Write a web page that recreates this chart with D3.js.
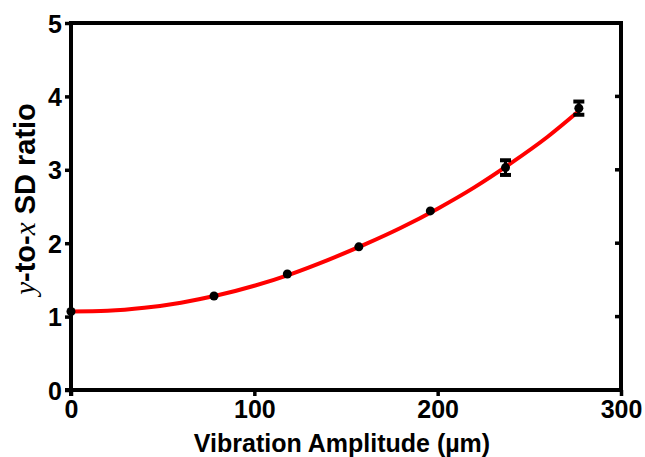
<!DOCTYPE html>
<html>
<head>
<meta charset="utf-8">
<script src="https://cdn.jsdelivr.net/npm/d3@7"></script>
<style>
  body { margin: 0; background: #fff; }
  svg { display: block; }
  .tick-label { font-family: "Liberation Sans", Arial, sans-serif; font-weight: bold; font-size: 25px; }
</style>
</head>
<body>
<div id="chart"></div>
<script>
// data
const amplitude = [0, 78, 118, 157, 196, 237, 277];
const sdRatio = [1.07, 1.28, 1.58, 1.95, 2.44, 3.03, 3.84];
const sdError = [0, 0, 0, 0, 0, 0.10, 0.09];

// red fit curve
const fitX = [0, 20, 40, 60, 80, 100, 120, 140, 160, 180, 200, 220, 240, 260, 277];
const fitY = [1.07, 1.08, 1.12, 1.19, 1.29, 1.42, 1.58, 1.77, 1.98, 2.21, 2.47, 2.76, 3.09, 3.45, 3.80];

const xTicks = [0, 100, 200, 300];
const yTicks = [0, 1, 2, 3, 4, 5];

const width = 645, height = 457;
const plotLeft = 71, plotRight = 621, plotTop = 23, plotBottom = 390;

const svg = d3.select('#chart').append('svg')
  .attr('width', width)
  .attr('height', height);

const x = d3.scaleLinear().domain([0, 300]).range([plotLeft, plotRight]);
const y = d3.scaleLinear().domain([0, 5]).range([plotBottom, plotTop]);

// fit line
const line = d3.line()
  .x((d, i) => x(fitX[i]))
  .y(d => y(d))
  .curve(d3.curveMonotoneX);

svg.append('path')
  .datum(fitY)
  .attr('d', line)
  .attr('fill', 'none')
  .attr('stroke', '#ff0000')
  .attr('stroke-width', 4);

// box: top and right border
svg.append('path')
  .attr('d', `M${plotLeft},${plotTop}H${plotRight}V${plotBottom}`)
  .attr('fill', 'none')
  .attr('stroke', '#000')
  .attr('stroke-width', 4);

// right side inward ticks
svg.append('g').selectAll('line')
  .data(yTicks.slice(1, -1))
  .join('line')
  .attr('x1', plotRight - 6).attr('x2', plotRight)
  .attr('y1', d => y(d)).attr('y2', d => y(d))
  .attr('stroke', '#000').attr('stroke-width', 3.5);

// x axis
const xAxis = svg.append('g')
  .attr('transform', `translate(0,${plotBottom})`)
  .call(d3.axisBottom(x).tickValues(xTicks).tickFormat(d3.format('d'))
    .tickSize(6).tickPadding(4).tickSizeOuter(0));
xAxis.select('.domain').attr('stroke-width', 4).attr('d', `M${plotLeft - 6},0H${plotRight}`);
xAxis.selectAll('.tick line').attr('stroke-width', 3.5);
xAxis.selectAll('.tick text').attr('class', 'tick-label').attr('fill', '#000');

// y axis
const yAxis = svg.append('g')
  .attr('transform', `translate(${plotLeft},0)`)
  .call(d3.axisLeft(y).tickValues(yTicks).tickFormat(d3.format('d'))
    .tickSize(6).tickPadding(3).tickSizeOuter(0));
yAxis.select('.domain').attr('stroke-width', 4).attr('d', `M0,${plotBottom + 6}V${plotTop - 2}`);
yAxis.selectAll('.tick line').attr('stroke-width', 3.5);
yAxis.selectAll('.tick text').attr('class', 'tick-label').attr('fill', '#000').attr('dy', '0.36em');

// error bars
const pts = amplitude.map((a, i) => ({ a: a, v: sdRatio[i], e: sdError[i] }));
const bars = svg.append('g').selectAll('g')
  .data(pts.filter(d => d.e > 0))
  .join('g');
bars.append('line')
  .attr('x1', d => x(d.a)).attr('x2', d => x(d.a))
  .attr('y1', d => y(d.v - d.e)).attr('y2', d => y(d.v + d.e))
  .attr('stroke', '#000').attr('stroke-width', 3);
bars.selectAll('.cap')
  .data(d => [[d.a, d.v - d.e], [d.a, d.v + d.e]])
  .join('line')
  .attr('class', 'cap')
  .attr('x1', d => x(d[0]) - 5.5).attr('x2', d => x(d[0]) + 5.5)
  .attr('y1', d => y(d[1])).attr('y2', d => y(d[1]))
  .attr('stroke', '#000').attr('stroke-width', 4);

// points
svg.append('g').selectAll('circle')
  .data(pts)
  .join('circle')
  .attr('cx', d => x(d.a))
  .attr('cy', d => y(d.v))
  .attr('r', 4.5)
  .attr('fill', '#000');

// x title
svg.append('text')
  .attr('x', (plotLeft + plotRight) / 2 - 4)
  .attr('y', 452)
  .attr('text-anchor', 'middle')
  .style('font-family', '"Liberation Sans", Arial, sans-serif')
  .style('font-weight', 'bold')
  .style('font-size', '25px')
  .text('Vibration Amplitude (\u00b5m)');

// y title, mixed italic variables
const yTitle = svg.append('text')
  .attr('transform', 'translate(35,199) rotate(-90)')
  .attr('text-anchor', 'middle')
  .style('font-family', '"Liberation Sans", Arial, sans-serif')
  .style('font-weight', 'bold')
  .style('font-size', '29px');
yTitle.append('tspan')
  .style('font-family', '"Liberation Serif", "Times New Roman", serif')
  .style('font-style', 'italic').style('font-weight', 'normal')
  .text('y');
yTitle.append('tspan').text('-to-');
yTitle.append('tspan')
  .style('font-family', '"Liberation Serif", "Times New Roman", serif')
  .style('font-style', 'italic').style('font-weight', 'normal')
  .text('x');
yTitle.append('tspan').text(' SD ratio');
</script>
</body>
</html>
